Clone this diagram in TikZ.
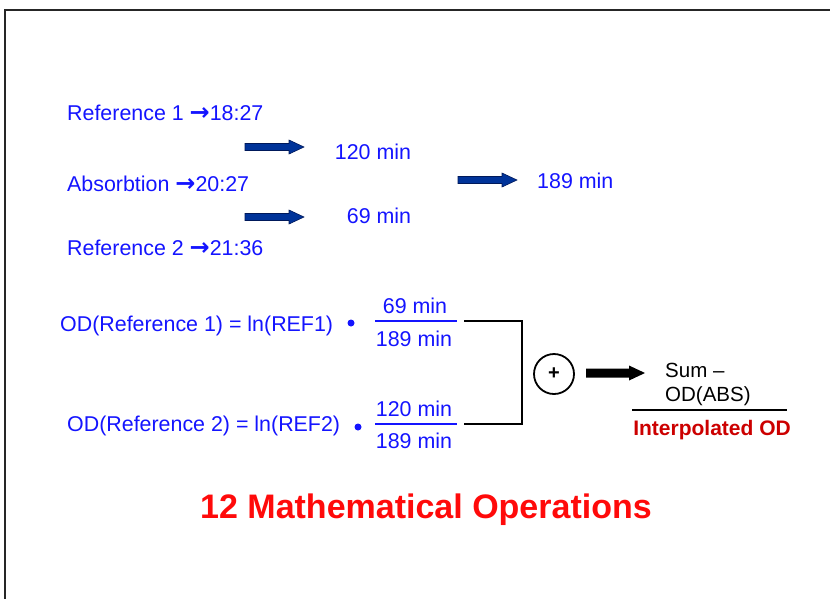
\documentclass[tikz,border=0pt]{standalone}
\usepackage{fontspec}
\setmainfont{Liberation Sans}
\newfontfamily\arrowfont{DejaVu Sans}
\definecolor{txtblue}{RGB}{20,20,255}
\definecolor{arrfill}{RGB}{0,51,153}
\definecolor{arrline}{RGB}{0,25,90}
\definecolor{titlered}{RGB}{255,10,10}
\definecolor{darkred}{RGB}{204,0,0}
\newcommand{\rarr}{{\arrowfont\bfseries\fontsize{24}{24}\selectfont →}}
\tikzset{
  txt/.style={inner sep=0pt, font=\fontsize{21.4}{25}\selectfont, text=txtblue},
  blackline/.style={line width=1.6pt, black},
  fracline/.style={line width=1.6pt, txtblue},
  bulletdot/.style={circle, fill=txtblue, inner sep=0pt, minimum size=7pt},
  barrow/.pic={\filldraw[fill=arrfill, draw=arrline, line width=0.6pt]
     (0,-3.5) -- (44,-3.5) -- (44,-7) -- (59,0) -- (44,7) -- (44,3.5) -- (0,3.5) -- cycle;},
  karrow/.pic={\fill[black]
     (0,-4.5) -- (43,-4.5) -- (43,-7.5) -- (59,0) -- (43,7.5) -- (43,4.5) -- (0,4.5) -- cycle;}
}
\begin{document}
\begin{tikzpicture}[x=1pt,y=-1pt]
\useasboundingbox (0,0) rectangle (830,598);
% frame
\draw[line width=1.6pt, black!85] (5,605) -- (5,10) -- (835,10);

% top section
\node[txt, anchor=west] (r1) at (67,113) {Reference 1 \rarr18:27};
\node[txt, anchor=west] (abs) at (67,184) {Absorbtion \rarr20:27};
\node[txt, anchor=west] (r2) at (67,248) {Reference 2 \rarr21:36};
\pic at (245,147) {barrow};
\pic at (245,217) {barrow};
\pic at (458,180) {barrow};
\node[txt] (t120) at (373,152) {120 min};
\node[txt] (t69) at (379,216) {69 min};
\node[txt, anchor=west] (t189) at (537,181) {189 min};

% equations
\node[txt, anchor=west] (od1) at (60,326) {OD(Reference 1) = ln(REF1)};
\node[bulletdot] (b1) at (351,323) {};
\node[txt] (n1) at (415,306) {69 min};
\node[txt] (d1) at (414,339) {189 min};
\draw[fracline] (375,321) -- (457,321);

\node[txt, anchor=west] (od2) at (67,426) {OD(Reference 2) = ln(REF2)};
\node[bulletdot] (b2) at (358,427) {};
\node[txt] (n2) at (414,409) {120 min};
\node[txt] (d2) at (414,441) {189 min};
\draw[fracline] (375,424) -- (457,424);

% bracket
\coordinate (k1) at (464,321);
\coordinate (k2) at (464,424);
\draw[blackline] (k1) -- (522,321) -- (522,424) -- (k2);

% sum circle
\node[circle, draw=black, line width=1.8pt, minimum size=40pt, inner sep=0pt,
      font=\fontsize{20}{20}\bfseries] (plus) at (554,374) {+};
\pic at (586,373) {karrow};

\node[inner sep=0pt, anchor=west, align=left, text=black,
      font=\fontsize{20.5}{24}\selectfont] (sum) at (665,384) {Sum –\\OD(ABS)};
\draw[blackline] (632,410) -- (787,410);
\node[inner sep=0pt, text=darkred, font=\fontsize{21}{24}\selectfont\bfseries] (interp) at (712,430) {Interpolated OD};

% title
\node[inner sep=0pt, text=titlered, font=\fontsize{34}{40}\selectfont\bfseries] (title) at (426,510) {12 Mathematical Operations};
\end{tikzpicture}
\end{document}
